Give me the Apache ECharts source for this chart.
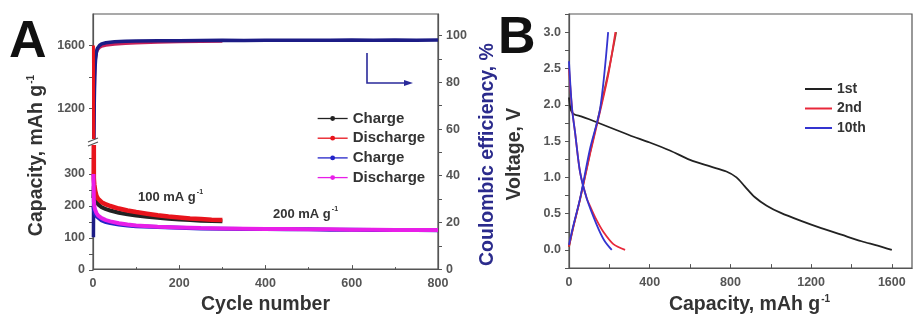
<!DOCTYPE html>
<html>
<head>
  <meta charset="utf-8">
  <title>Cycling + voltage profiles</title>
  <script src="https://cdn.jsdelivr.net/npm/echarts@6/dist/echarts.min.js"></script>
  <style>
    html, body { margin: 0; padding: 0; background: #fff; }
    #main { width: 914px; height: 320px; }
  </style>
</head>
<body>
  <div id="main"></div>
  <script>
    // ---- panel A: cycling at 100 / 200 mA g-1 ----
    var cyc100 = [1, 2, 3, 5, 8, 12, 20, 30, 40, 60, 80, 100, 125, 150, 175, 200, 225, 250, 275, 300];
    var charge100 = [225, 262, 245, 228, 214, 205, 196, 190, 186, 179, 174, 170, 166, 163, 160, 158, 156, 154, 153, 152];
    var discharge100 = [1600, 285, 268, 248, 232, 222, 212, 205, 200, 192, 186, 181, 176, 171, 167, 164, 161, 159, 157, 156];

    var cyc200 = [1, 2, 3, 5, 8, 12, 20, 30, 40, 60, 80, 100, 150, 200, 250, 300, 350, 400, 450, 500, 550, 600, 650, 700, 750, 800];
    var charge200 = [200, 190, 183, 175, 168, 162, 155, 150, 147, 142, 139, 137, 134, 132, 130, 129, 128, 128, 127, 127, 126, 126, 125, 125, 125, 124];
    var discharge200 = [300, 215, 200, 188, 178, 170, 162, 156, 152, 146, 142, 139, 135, 133, 131, 130, 129, 128, 128, 127, 127, 126, 126, 125, 125, 125];

    var ceCyc100 = [1, 2, 3, 4, 5, 6, 8, 10, 15, 20, 30, 50, 75, 100, 150, 200, 250, 300];
    var ce100 = [40, 64, 78, 85, 89, 91, 93, 94, 95, 95.6, 96, 96.4, 96.8, 97, 97.3, 97.5, 97.6, 97.7];
    var ceCyc200 = [1, 2, 3, 4, 5, 6, 8, 10, 15, 20, 30, 50, 75, 100, 150, 200, 250, 300, 350, 400, 450, 500, 550, 600, 650, 700, 750, 800];
    var ce200 = [13.6, 55, 72, 82, 87, 90, 93, 94.5, 95.8, 96.5, 97, 97.4, 97.6, 97.7, 97.8, 97.8, 97.9, 98.0, 97.9, 98.0, 98.1, 98.0, 98.1, 98.2, 98.1, 98.2, 98.1, 98.2];

    // ---- panel B: voltage profiles ----
    var cap1stDis = [0, 10, 25, 60, 100, 200, 300, 400, 500, 600, 700, 780, 830, 870, 920, 980, 1050, 1150, 1250, 1350, 1450, 1530, 1600];
    var v1stDis = [2.1, 1.92, 1.87, 1.84, 1.80, 1.69, 1.58, 1.48, 1.37, 1.24, 1.15, 1.08, 1.00, 0.88, 0.73, 0.61, 0.51, 0.40, 0.30, 0.21, 0.12, 0.06, 0.0];
    var cap1stCh = [0, 20, 55, 105, 155, 195, 234];
    var v1stCh = [0.04, 0.3, 0.7, 1.35, 1.95, 2.45, 3.0];
    var cap2ndDis = [0, 15, 30, 55, 88, 105, 135, 170, 220, 278];
    var v2ndDis = [2.5, 1.95, 1.62, 1.07, 0.71, 0.6, 0.42, 0.25, 0.08, 0.0];
    var cap2ndCh = [0, 20, 55, 105, 155, 195, 230];
    var v2ndCh = [0.05, 0.3, 0.7, 1.33, 1.92, 2.42, 3.0];
    var cap10thDis = [0, 15, 30, 55, 88, 137, 175, 212];
    var v10thDis = [2.6, 1.95, 1.62, 1.07, 0.71, 0.35, 0.13, 0.0];
    var cap10thCh = [0, 20, 55, 104, 154, 194];
    var v10thCh = [0.07, 0.32, 0.71, 1.39, 1.94, 3.0];

    function pairs(xs, ys) {
      return xs.map(function (x, i) { return [x, ys[i]]; });
    }

    var FONT = 'Liberation Sans, Arial, sans-serif';
    var AX = '#555';
    var tickLabel = { color: '#555', fontSize: 12.5, fontWeight: 'bold', fontFamily: FONT, formatter: function (v) { return String(v); } };
    function titleStyle(color, padding) {
      return {
        color: color, fontSize: 19.5, fontWeight: 'bold', fontFamily: FONT, padding: padding,
        rich: { sup: { fontSize: 10, fontWeight: 'bold', color: color, fontFamily: FONT, verticalAlign: 'top', padding: [0, 0, 12, 1] } }
      };
    }

    var myChart = echarts.init(document.getElementById('main'));

    var option = {
      animation: false,
      grid: [
        // A, whole frame (x axis + CE axis)
        { left: 93, top: 14, width: 345, height: 256, show: true, borderColor: AX, borderWidth: 1.2 },
        // A, lower capacity part
        { left: 93, top: 142, width: 345, height: 128 },
        // A, upper capacity part
        { left: 93, top: 14, width: 345, height: 128 },
        // B
        { left: 569, top: 14, width: 343, height: 256, show: true, borderColor: AX, borderWidth: 1.2 }
      ],
      xAxis: [
        {
          gridIndex: 0, type: 'value', min: 0, max: 800, interval: 200,
          name: 'Cycle number', nameLocation: 'middle', nameGap: 20, nameTextStyle: titleStyle('#333', 0),
          axisLine: { onZero: false, lineStyle: { color: AX, width: 1.2 } },
          axisTick: { inside: true, length: 4, lineStyle: { color: AX } },
          minorTick: { show: true, splitNumber: 2, length: 2, lineStyle: { color: AX } },
          axisLabel: tickLabel, splitLine: { show: false }
        },
        { gridIndex: 1, type: 'value', min: 0, max: 800, show: false },
        { gridIndex: 2, type: 'value', min: 0, max: 800, show: false },
        {
          gridIndex: 3, type: 'value', min: 0, max: 1700,
          name: 'Capacity, mAh g{sup|-1}', nameLocation: 'middle', nameGap: 20, nameTextStyle: titleStyle('#333', [0, 0, 0, 18]),
          axisLine: { onZero: false, lineStyle: { color: AX, width: 1.2 } },
          axisTick: { inside: true, length: 4, customValues: [0, 200, 400, 600, 800, 1000, 1200, 1400, 1600], lineStyle: { color: AX } },
          axisLabel: Object.assign({}, tickLabel, { customValues: [0, 400, 800, 1200, 1600] }),
          splitLine: { show: false }
        }
      ],
      yAxis: [
        // A left title holder
        {
          gridIndex: 0, type: 'value', position: 'left', min: 0, max: 1,
          name: 'Capacity, mAh g{sup|-1}', nameLocation: 'middle', nameGap: 45, nameTextStyle: titleStyle('#333', [0, 28, 0, 0]),
          axisLine: { show: false }, axisTick: { show: false }, axisLabel: { show: false }, splitLine: { show: false }
        },
        // A right: Coulombic efficiency
        {
          gridIndex: 0, type: 'value', position: 'right', min: 0, max: 109.3,
          name: 'Coulombic efficiency, %', nameLocation: 'middle', nameGap: 40,
          nameTextStyle: titleStyle('#2b2b8c', [0, 26, 0, 0]),
          axisLine: { show: true, lineStyle: { color: AX, width: 1.2 } },
          axisTick: { length: 4, customValues: [0, 10, 20, 30, 40, 50, 60, 70, 80, 90, 100], lineStyle: { color: AX } },
          axisLabel: Object.assign({}, tickLabel, { customValues: [0, 20, 40, 60, 80, 100] }),
          splitLine: { show: false }
        },
        // A left, lower part
        {
          gridIndex: 1, type: 'value', min: 0, max: 400,
          axisLine: { show: true, onZero: false, lineStyle: { color: AX, width: 1.2 } },
          axisTick: { length: 4, customValues: [0, 50, 100, 150, 200, 250, 300, 350], lineStyle: { color: AX } },
          axisLabel: Object.assign({}, tickLabel, { customValues: [0, 100, 200, 300] }),
          splitLine: { show: false }
        },
        // A left, upper part
        {
          gridIndex: 2, type: 'value', min: 985, max: 1800,
          axisLine: { show: true, onZero: false, lineStyle: { color: AX, width: 1.2 } },
          axisTick: { length: 4, customValues: [1200, 1400, 1600], lineStyle: { color: AX } },
          axisLabel: Object.assign({}, tickLabel, { customValues: [1200, 1600] }),
          splitLine: { show: false }
        },
        // B
        {
          gridIndex: 3, type: 'value', min: -0.25, max: 3.25, interval: 0.25,
          name: 'Voltage, V', nameLocation: 'middle', nameGap: 44, nameTextStyle: titleStyle('#333', [0, 26, 0, 0]),
          axisLine: { onZero: false, lineStyle: { color: AX, width: 1.2 } },
          axisTick: { length: 4, lineStyle: { color: AX } },
          axisLabel: Object.assign({}, tickLabel, { customValues: [0, 0.5, 1, 1.5, 2, 2.5, 3], formatter: function (v) { return v.toFixed(1); } }),
          splitLine: { show: false }
        }
      ],
      legend: [
        {
          data: ['Charge', 'Discharge', 'Charge ', 'Discharge '],
          orient: 'vertical', left: 312, top: 106, itemWidth: 30, itemHeight: 6, itemGap: 4.7,
          lineStyle: { width: 1.3 },
          textStyle: { color: '#333', fontSize: 15, fontWeight: 'bold', fontFamily: FONT },
          formatter: function (n) { return n.trim(); }
        },
        {
          data: ['1st', '2nd', '10th'],
          orient: 'vertical', left: 800, top: 77, itemWidth: 27, itemHeight: 2, itemGap: 5.5, icon: 'rect',
          textStyle: { color: '#333', fontSize: 14, fontWeight: 'bold', fontFamily: FONT }
        }
      ],
      series: [
        // CE curves (right axis)
        { name: 'CE 100', type: 'line', xAxisIndex: 0, yAxisIndex: 1, data: pairs(ceCyc100, ce100),
          showSymbol: false, lineStyle: { color: '#c8205a', width: 3.5 }, itemStyle: { color: '#c8205a' } },
        { name: 'CE 200', type: 'line', xAxisIndex: 0, yAxisIndex: 1, data: pairs(ceCyc200, ce200),
          showSymbol: false, lineStyle: { color: '#1c1c86', width: 3.5 }, itemStyle: { color: '#1c1c86' } },
        // capacity, lower part
        { name: 'Charge', type: 'line', xAxisIndex: 1, yAxisIndex: 2, data: pairs(cyc100, charge100),
          symbol: 'circle', symbolSize: 4, showSymbol: false, lineStyle: { color: '#222', width: 4 }, itemStyle: { color: '#222' } },
        { name: 'Discharge', type: 'line', xAxisIndex: 1, yAxisIndex: 2, data: pairs(cyc100, discharge100),
          symbol: 'circle', symbolSize: 4, showSymbol: false, lineStyle: { color: '#e8141c', width: 4.5 }, itemStyle: { color: '#e8141c' } },
        { name: 'Charge ', type: 'line', xAxisIndex: 1, yAxisIndex: 2, data: pairs(cyc200, charge200),
          symbol: 'circle', symbolSize: 4, showSymbol: false, lineStyle: { color: '#2424c8', width: 4 }, itemStyle: { color: '#2424c8' } },
        { name: 'Discharge ', type: 'line', xAxisIndex: 1, yAxisIndex: 2, data: pairs(cyc200, discharge200),
          symbol: 'circle', symbolSize: 4, showSymbol: false, lineStyle: { color: '#e81ee8', width: 4 }, itemStyle: { color: '#e81ee8' } },
        // capacity, upper part (first discharge)
        { name: 'Discharge', type: 'line', xAxisIndex: 2, yAxisIndex: 3, data: pairs(cyc100, discharge100),
          symbol: 'circle', symbolSize: 4, showSymbol: false, lineStyle: { color: '#e8141c', width: 3 }, itemStyle: { color: '#e8141c' } },
        // B profiles
        { name: '1st', type: 'line', xAxisIndex: 3, yAxisIndex: 4, data: pairs(cap1stDis, v1stDis), symbol: 'none', smooth: 0.3,
          lineStyle: { color: '#222', width: 1.8 }, itemStyle: { color: '#222' } },
        { name: '1st', type: 'line', xAxisIndex: 3, yAxisIndex: 4, data: pairs(cap1stCh, v1stCh), symbol: 'none', smooth: 0.3,
          lineStyle: { color: '#8a4a2a', width: 1.8 }, itemStyle: { color: '#222' } },
        { name: '2nd', type: 'line', xAxisIndex: 3, yAxisIndex: 4, data: pairs(cap2ndDis, v2ndDis), symbol: 'none', smooth: 0.3,
          lineStyle: { color: '#e8283a', width: 1.8 }, itemStyle: { color: '#e8283a' } },
        { name: '2nd', type: 'line', xAxisIndex: 3, yAxisIndex: 4, data: pairs(cap2ndCh, v2ndCh), symbol: 'none', smooth: 0.3,
          lineStyle: { color: '#e8283a', width: 1.8 }, itemStyle: { color: '#e8283a' } },
        { name: '10th', type: 'line', xAxisIndex: 3, yAxisIndex: 4, data: pairs(cap10thDis, v10thDis), symbol: 'none', smooth: 0.3,
          lineStyle: { color: '#3434d0', width: 1.8 }, itemStyle: { color: '#3434d0' } },
        { name: '10th', type: 'line', xAxisIndex: 3, yAxisIndex: 4, data: pairs(cap10thCh, v10thCh), symbol: 'none', smooth: 0.3,
          lineStyle: { color: '#3434d0', width: 1.8 }, itemStyle: { color: '#3434d0' } }
      ],
      graphic: [
        { type: 'text', left: 9, top: 17, z: 100, style: { text: 'A', font: 'bold 52px ' + FONT, fill: '#111' } },
        { type: 'text', left: 498, top: 13, z: 100, style: { text: 'B', font: 'bold 52px ' + FONT, fill: '#111' } },
        // axis break mark
        { type: 'rect', z: 100, shape: { x: 88, y: 139, width: 10, height: 6 }, style: { fill: '#fff' } },
        { type: 'line', z: 101, shape: { x1: 88, y1: 142, x2: 98, y2: 138 }, style: { stroke: AX, lineWidth: 1.2 } },
        { type: 'line', z: 101, shape: { x1: 88, y1: 146, x2: 98, y2: 142 }, style: { stroke: AX, lineWidth: 1.2 } },
        // rate labels
        { type: 'text', left: 138, top: 189, z: 100, style: {
          text: '100 mA g{s|-1}', font: 'bold 13px ' + FONT, fill: '#333',
          rich: { s: { fontSize: 7, fontWeight: 'bold', fill: '#333', verticalAlign: 'top', padding: [0, 0, 9, 1] } } } },
        { type: 'text', left: 273, top: 206, z: 100, style: {
          text: '200 mA g{s|-1}', font: 'bold 13px ' + FONT, fill: '#333',
          rich: { s: { fontSize: 7, fontWeight: 'bold', fill: '#333', verticalAlign: 'top', padding: [0, 0, 9, 1] } } } },
        // arrow pointing to CE axis
        { type: 'polyline', z: 100, shape: { points: [[367, 53], [367, 83], [406, 83]] }, style: { stroke: '#2a2a9a', lineWidth: 1.6, fill: null } },
        { type: 'polygon', z: 100, shape: { points: [[404, 80], [413, 83], [404, 86]] }, style: { fill: '#2a2a9a' } }
      ]
    };

    myChart.setOption(option);
  </script>
</body>
</html>
